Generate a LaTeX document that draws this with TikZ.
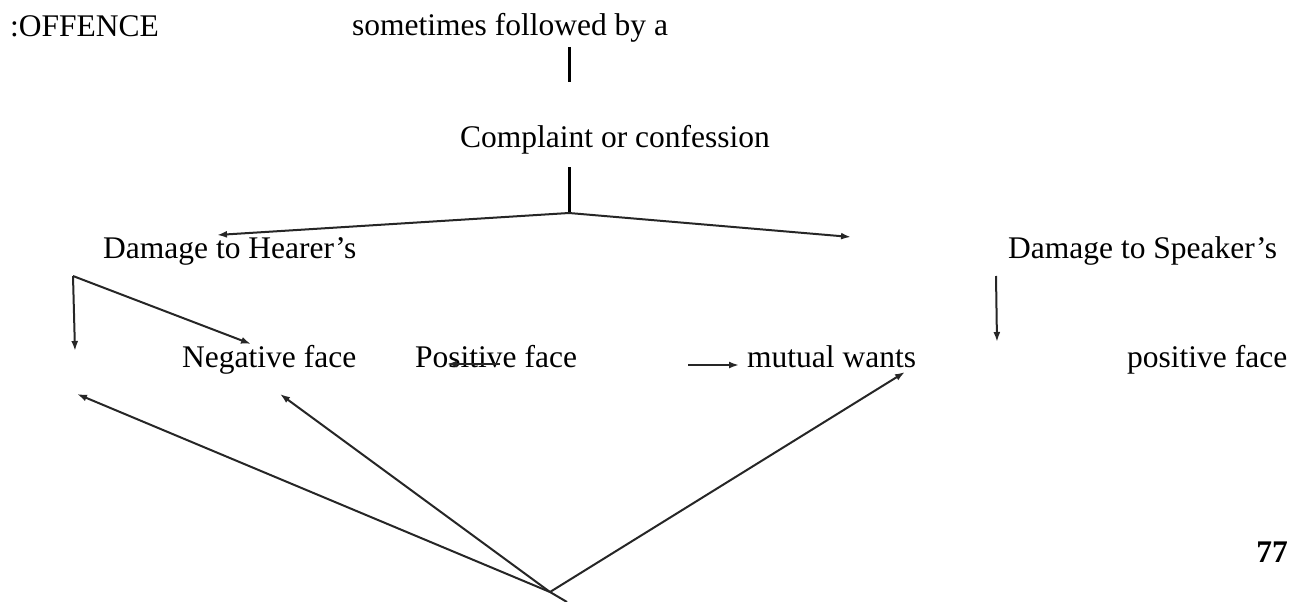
\documentclass[tikz,border=0pt]{standalone}
\usepackage{fontspec}
\setmainfont{Liberation Serif}
\usetikzlibrary{arrows.meta}
\begin{document}
\begin{tikzpicture}[x=1pt,y=-1pt,
  lbl/.style={anchor=base west,inner sep=0pt,font=\fontsize{31.5}{38}\selectfont},
  stem/.style={line width=3pt,black},
  conn/.style={line width=2pt,black!85,-{Latex[length=10pt,width=7pt]}},
  plain/.style={line width=2pt,black!85}]
\useasboundingbox (0,0) rectangle (1304,602);
% texts
\node[lbl] (offence) at (10,37) {:OFFENCE};
\node[lbl] (sometimes) at (352,36) {sometimes followed by a};
\node[lbl] (complaint) at (460,147) {Complaint or confession};
\node[lbl] (hearer) at (103,258) {Damage to Hearer’s};
\node[lbl] (speaker) at (1008,258) {Damage to Speaker’s};
\node[lbl] (negative) at (182,367) {Negative face};
\node[lbl] (positive) at (415,367) {Positive face};
\node[lbl] (mutual) at (747,367) {mutual wants};
\node[lbl] (positiveS) at (1127,367) {positive face};
\node[anchor=base east,inner sep=0pt,font=\fontsize{31.5}{38}\selectfont\bfseries] (page) at (1288,562) {77};
% coordinates
\coordinate (s1a) at (569,47);
\coordinate (s1b) at (569,82);
\coordinate (s2a) at (569,167);
\coordinate (fork) at (569,213);
\coordinate (forkL) at (217,235);
\coordinate (forkR) at (851,237);
\coordinate (hroot) at (73,276);
\coordinate (hdown) at (75,351);
\coordinate (hneg) at (251,344);
\coordinate (posA) at (500,364);
\coordinate (posB) at (447,364);
\coordinate (mutA) at (688,365);
\coordinate (mutB) at (739,365);
\coordinate (sroot) at (996,276);
\coordinate (sdown) at (997,342);
\coordinate (bot) at (550,592);
\coordinate (botTail) at (567,602);
\coordinate (tipA) at (77,394);
\coordinate (tipB) at (280,394);
\coordinate (tipC) at (905,372);
% connectors
\draw[stem] (s1a) -- (s1b);
\draw[stem] (s2a) -- (fork);
\draw[conn] (fork) -- (forkL);
\draw[conn] (fork) -- (forkR);
\draw[conn] (hroot) -- (hdown);
\draw[conn] (hroot) -- (hneg);
\draw[conn] (posA) -- (posB);
\draw[conn] (mutA) -- (mutB);
\draw[conn] (sroot) -- (sdown);
\draw[conn] (bot) -- (tipA);
\draw[conn] (bot) -- (tipB);
\draw[conn] (bot) -- (tipC);
\draw[plain] (bot) -- (botTail);
\end{tikzpicture}
\end{document}
